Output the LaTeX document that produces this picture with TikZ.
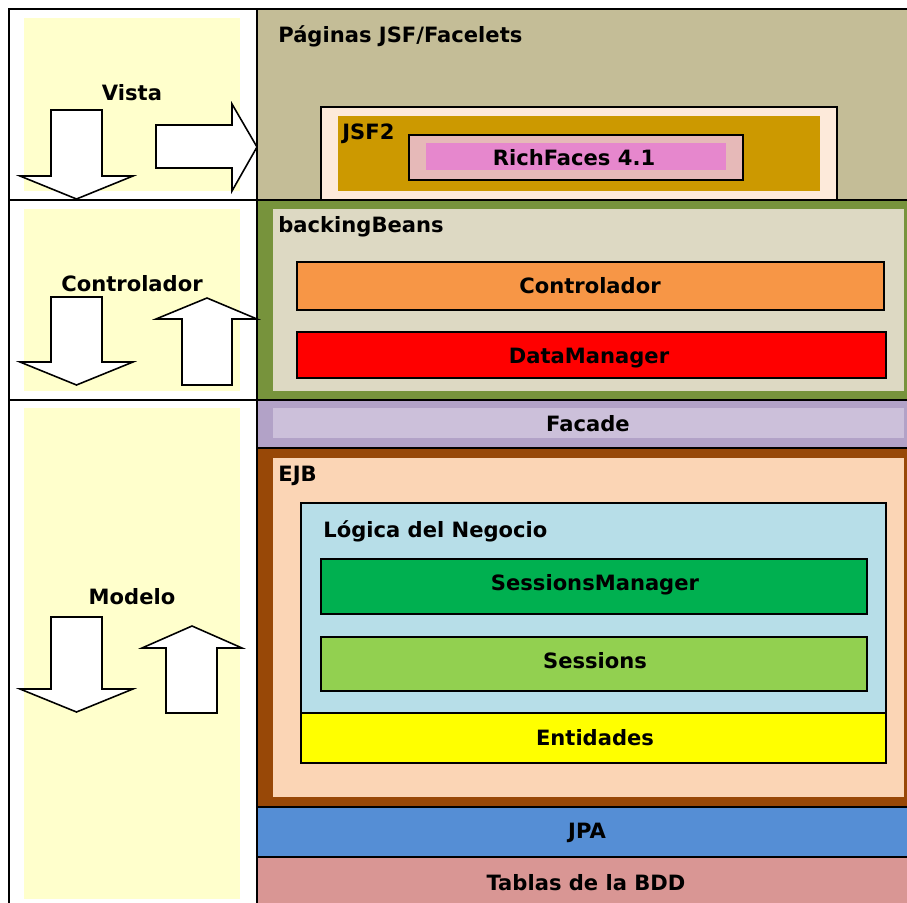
\documentclass[tikz,border=0pt]{standalone}
\usepackage{fontspec}
\setmainfont{DejaVu Sans}
\usetikzlibrary{positioning,fit}

\begin{document}
\begin{tikzpicture}[x=0.02cm, y=-0.02cm,
        every node/.style={font=\fontsize{12}{14}\selectfont\bfseries},
        layer/.style={draw=black, line width=0.9pt, inner sep=0pt},
        band/.style={inner sep=0pt},
        title/.style={anchor=base west, inner sep=0pt},
        caption/.style={anchor=base, inner sep=0pt},
        blockarrow/.style={draw=black, fill=white, line width=0.9pt, line join=miter}]
        \definecolor{panelyellow}{RGB}{255,255,204}
        \definecolor{pagesbg}{RGB}{196,189,151}
        \definecolor{jsfpeach}{RGB}{253,234,218}
        \definecolor{jsfgold}{RGB}{204,153,0}
        \definecolor{richouter}{RGB}{230,185,184}
        \definecolor{richpink}{RGB}{230,135,205}
        \definecolor{bbgreen}{RGB}{119,147,60}
        \definecolor{bbbeige}{RGB}{221,217,195}
        \definecolor{ctrlorange}{RGB}{247,150,70}
        \definecolor{dmred}{RGB}{255,0,0}
        \definecolor{facadeout}{RGB}{178,162,199}
        \definecolor{facadein}{RGB}{204,192,218}
        \definecolor{ejbbrown}{RGB}{152,72,7}
        \definecolor{ejbpeach}{RGB}{251,213,181}
        \definecolor{logicblue}{RGB}{183,222,232}
        \definecolor{smgreen}{RGB}{0,176,80}
        \definecolor{sessgreen}{RGB}{146,208,80}
        \definecolor{entyellow}{RGB}{255,255,0}
        \definecolor{jpablue}{RGB}{85,142,213}
        \definecolor{tablaspink}{RGB}{217,150,148}

        \useasboundingbox (0,0) rectangle (907,903);
        \fill[white] (0,0) rectangle (907,903);

        % Left column: MVC cells
        \node[layer, fill=white, fit={(9,9) (257,200)}] (vistacell) {};
        \node[layer, fill=white, fit={(9,200) (257,400)}] (ctrlcell) {};
        \node[layer, fill=white, fit={(9,400) (257,915)}] (modelcell) {};
        \node[band, fill=panelyellow, fit={(24,18) (240,191)}] (vistapanel) {};
        \node[band, fill=panelyellow, fit={(24,209) (240,391)}] (ctrlpanel) {};
        \node[band, fill=panelyellow, fit={(24,408) (240,899)}] (modelpanel) {};
        \node[caption] (vistatxt) at (132,100) {Vista};
        \node[caption] (ctrltxt) at (132,291) {Controlador};
        \node[caption] (modeltxt) at (132,604) {Modelo};

        % Pages
        \node[layer, fill=pagesbg, fit={(257,9) (915,200)}] (paginas) {};
        \node[title] (paginastxt) at (278,42) {Páginas JSF/Facelets};
        \node[layer, fill=jsfpeach, fit={(321,107) (837,200)}] (jsfouter) {};
        \node[band, fill=jsfgold, fit={(338,116) (820,191)}] (jsf) {};
        \node[title] (jsftxt) at (342,139) {JSF2};
        \node[layer, fill=richouter, fit={(409,135) (743,180)}] (richouter) {};
        \node[band, fill=richpink, fit={(426,143) (726,170)}] (richfaces) {};
        \node[caption] (richtxt) at (574,165) {RichFaces 4.1};

        % Backing beans
        \node[layer, fill=bbgreen, fit={(257,200) (915,400)}] (backing) {};
        \node[band, fill=bbbeige, fit={(273,209) (904,391)}] (backingin) {};
        \node[title] (backingtxt) at (278,232) {backingBeans};
        \node[layer, fill=ctrlorange, fit={(297,262) (884,310)}] (controlador) {};
        \node[caption] (controladortxt) at (590,293) {Controlador};
        \node[layer, fill=dmred, fit={(297,332) (886,378)}] (datamanager) {};
        \node[caption] (datamanagertxt) at (589,363) {DataManager};

        % Facade
        \node[layer, fill=facadeout, fit={(257,400) (915,448)}] (facade) {};
        \node[band, fill=facadein, fit={(273,408) (904,438)}] (facadein) {};
        \node[caption] (facadetxt) at (588,431) {Facade};

        % EJB
        \node[layer, fill=ejbbrown, fit={(257,448) (915,807)}] (ejb) {};
        \node[band, fill=ejbpeach, fit={(273,458) (904,797)}] (ejbin) {};
        \node[title] (ejbtxt) at (278,481) {EJB};
        \node[layer, fill=logicblue, fit={(301,503) (886,713)}] (logica) {};
        \node[title] (logicatxt) at (323,537) {Lógica del Negocio};
        \node[layer, fill=smgreen, fit={(321,559) (867,614)}] (sessmanager) {};
        \node[caption] (sessmanagertxt) at (595,590) {SessionsManager};
        \node[layer, fill=sessgreen, fit={(321,637) (867,691)}] (sessions) {};
        \node[caption] (sessionstxt) at (595,668) {Sessions};
        \node[layer, fill=entyellow, fit={(301,713) (886,763)}] (entidades) {};
        \node[caption] (entidadestxt) at (595,745) {Entidades};

        % JPA and tables
        \node[layer, fill=jpablue, fit={(257,807) (915,857)}] (jpa) {};
        \node[caption] (jpatxt) at (587,838) {JPA};
        \node[layer, fill=tablaspink, fit={(257,857) (915,925)}] (tablas) {};
        \node[caption] (tablastxt) at (586,890) {Tablas de la BDD};

        % Block arrows
        \foreach \ytop/\yhead in {110/176, 297/362, 617/689}
            \draw[blockarrow] (51,\ytop) -- (102,\ytop) -- (102,\yhead) -- (133,\yhead)
                -- (76.5,{\yhead+23}) -- (20,\yhead) -- (51,\yhead) -- cycle;
        \draw[blockarrow] (156,125) -- (232,125) -- (232,104) -- (257,147) -- (232,191) -- (232,168) -- (156,168) -- cycle;
        \draw[blockarrow] (182,385) -- (232,385) -- (232,319) -- (257,319) -- (207,298) -- (156,319) -- (182,319) -- cycle;
        \draw[blockarrow] (166,713) -- (217,713) -- (217,648) -- (242,648) -- (192,626) -- (142,648) -- (166,648) -- cycle;
    \end{tikzpicture}
\end{document}
